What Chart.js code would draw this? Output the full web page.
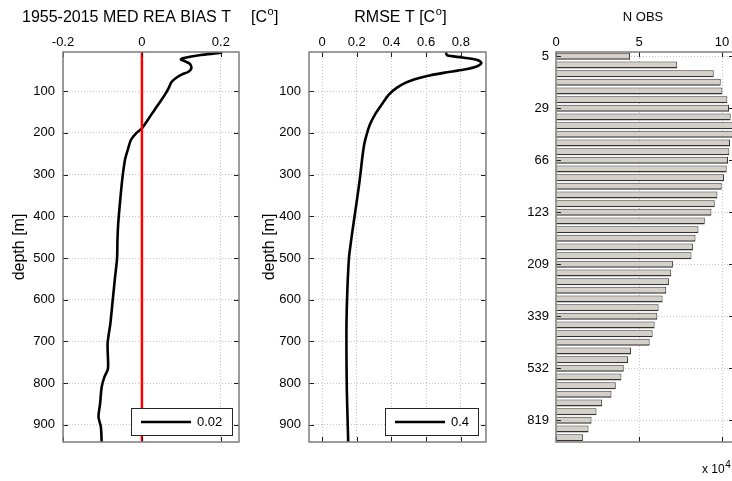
<!DOCTYPE html>
<html><head><meta charset="utf-8">
<script src="https://cdn.jsdelivr.net/npm/chart.js@4.4.1/dist/chart.umd.min.js"></script>
<style>
html,body{margin:0;padding:0;background:#fff;overflow:hidden;width:732px;height:481px;position:relative}
canvas{position:absolute;left:0;top:0}
</style></head><body>
<canvas id="c1" width="732" height="481"></canvas>
<canvas id="c2" width="732" height="481"></canvas>
<canvas id="c3" width="740" height="481"></canvas>
<script>
// ---------------- DATA ----------------
const biasDepth = [6, 8, 13, 21, 24, 29, 35, 46, 54, 59, 67, 78, 90, 104, 123, 146, 170, 189, 201, 217, 241, 265, 313, 361, 416, 457, 501, 545, 601, 657, 705, 765, 785, 809, 849, 881, 905, 941];
const biasValue = [0.203, 0.200, 0.149, 0.103, 0.099, 0.111, 0.122, 0.125, 0.117, 0.103, 0.088, 0.075, 0.069, 0.061, 0.048, 0.031, 0.014, 0.000, -0.015, -0.028, -0.036, -0.043, -0.050, -0.055, -0.060, -0.062, -0.063, -0.068, -0.074, -0.080, -0.087, -0.086, -0.095, -0.102, -0.106, -0.110, -0.104, -0.102];
const zeroLineValue = [0, 0];
const zeroLineDepth = [6, 941];

const rmseDepth = [6, 14, 19, 25, 32, 40, 48, 56, 64, 72, 80, 92, 108, 132, 156, 180, 204, 228, 260, 300, 332, 364, 396, 436, 476, 501, 577, 657, 737, 817, 881, 941];
const rmseValue = [0.715, 0.72, 0.81, 0.895, 0.918, 0.895, 0.82, 0.70, 0.60, 0.53, 0.48, 0.43, 0.385, 0.344, 0.305, 0.276, 0.257, 0.243, 0.232, 0.221, 0.211, 0.200, 0.189, 0.175, 0.162, 0.155, 0.146, 0.141, 0.141, 0.143, 0.147, 0.151];

const obsLevels = ['5','','','','','','29','','','','','','66','','','','','','123','','','','','','209','','','','','','339','','','','','','532','','','','','','819','',''];
const obsCount = [4.46, 7.3, 9.5, 9.92, 10.02, 10.32, 10.42, 10.52, 10.75, 10.75, 10.48, 10.44, 10.36, 10.28, 10.12, 9.98, 9.72, 9.56, 9.36, 8.96, 8.58, 8.4, 8.26, 8.16, 7.04, 6.94, 6.8, 6.64, 6.42, 6.18, 6.1, 5.94, 5.82, 5.64, 4.52, 4.34, 4.08, 3.94, 3.6, 3.34, 2.78, 2.44, 2.14, 1.96, 1.62];

const depthTicks = [100, 200, 300, 400, 500, 600, 700, 800, 900];
const biasTicks = [-0.2, 0, 0.2];
const rmseTicks = [0, 0.2, 0.4, 0.6, 0.8];
const obsTicks = [0, 5, 10];
const biasLegend = '0.02';
const rmseLegend = '0.4';

// ---------------- STYLE / HELPERS ----------------
const FONT = '"Liberation Sans", Arial, Helvetica, sans-serif';
const GRID = '#c4c4c4';

function pts(xs, ys) { return xs.map((v, i) => ({x: v, y: ys[i]})); }

// frame + inward tick marks on all four sides
const frameTicks = {
  id: 'frameTicks',
  afterDraw(chart) {
    const {ctx, chartArea: a} = chart;
    const xs = chart.scales.x, ys = chart.scales.y;
    ctx.save();
    ctx.strokeStyle = '#1e1e1e';
    ctx.lineWidth = 1;
    ctx.beginPath();
    xs.ticks.forEach((t, i) => {
      const p = Math.round(xs.getPixelForTick(i)) + 0.5;
      ctx.moveTo(p, a.top); ctx.lineTo(p, a.top + 5);
      ctx.moveTo(p, a.bottom); ctx.lineTo(p, a.bottom - 5);
    });
    ys.ticks.forEach((t, i) => {
      if (t.label === '' ) return;
      const p = Math.round(ys.getPixelForTick(i)) + 0.5;
      ctx.moveTo(a.left, p); ctx.lineTo(a.left + 5, p);
      ctx.moveTo(a.right, p); ctx.lineTo(a.right - 5, p);
    });
    ctx.stroke();
    ctx.strokeStyle = '#7c7c7c';
    ctx.lineWidth = 1.5;
    ctx.strokeRect(a.left, a.top, a.width, a.height);
    ctx.restore();
  }
};

// legend box in lower-right corner of plot area
const boxLegend = {
  id: 'boxLegend',
  afterDraw(chart, args, o) {
    if (!o || !o.show) return;
    const ds = chart.data.datasets[o.datasetIndex];
    const {ctx, chartArea: a} = chart;
    ctx.save();
    ctx.font = '13px ' + FONT;
    const w = o.width, h = 27;
    const x1 = Math.round(a.right - o.marginRight - w), y1 = Math.round(a.bottom - 7 - h);
    ctx.fillStyle = '#fff';
    ctx.fillRect(x1, y1, w, h);
    ctx.strokeStyle = '#262626';
    ctx.lineWidth = 1;
    ctx.strokeRect(x1 + 0.5, y1 + 0.5, w, h);
    ctx.strokeStyle = ds.borderColor;
    ctx.lineWidth = ds.borderWidth;
    ctx.beginPath();
    ctx.moveTo(x1 + 10, y1 + h / 2 + 0.5);
    ctx.lineTo(x1 + 60, y1 + h / 2 + 0.5);
    ctx.stroke();
    ctx.fillStyle = '#000';
    ctx.textBaseline = 'middle';
    ctx.textAlign = 'left';
    ctx.fillText(ds.label, x1 + 66, y1 + h / 2 + 1);
    ctx.restore();
  }
};

// titles with superscript
const headings = {
  id: 'headings',
  afterDraw(chart, args, o) {
    if (!o || !o.items) return;
    const ctx = chart.ctx;
    ctx.save();
    ctx.fillStyle = '#000';
    ctx.textBaseline = 'alphabetic';
    o.items.forEach(it => {
      ctx.font = it.size + 'px ' + FONT;
      ctx.textAlign = 'left';
      let x = it.x;
      const wMain = ctx.measureText(it.text).width;
      ctx.font = it.supSize + 'px ' + FONT;
      const wSup = it.sup ? ctx.measureText(it.sup).width : 0;
      ctx.font = it.size + 'px ' + FONT;
      const wTail = it.tail ? ctx.measureText(it.tail).width : 0;
      if (it.align === 'center') x = it.x - (wMain + wSup + wTail) / 2;
      if (it.align === 'right') x = it.x - (wMain + wSup + wTail);
      ctx.fillText(it.text, x, it.y);
      if (it.sup) {
        ctx.font = it.supSize + 'px ' + FONT;
        ctx.fillText(it.sup, x + wMain + 0.5, it.y - it.size * 0.42);
      }
      if (it.tail) {
        ctx.font = it.size + 'px ' + FONT;
        ctx.fillText(it.tail, x + wMain + wSup + 1, it.y);
      }
    });
    ctx.restore();
  }
};

function xAxis(min, max, ticks, fmt) {
  return {
    type: 'linear', position: 'top', min: min, max: max,
    afterBuildTicks: s => { s.ticks = ticks.map(v => ({value: v})); },
    afterFit: s => { s.height = 52; },
    ticks: {font: {size: 13, family: FONT}, color: '#000', padding: 2, maxRotation: 0,
            callback: fmt || (v => String(v))},
    grid: {color: GRID, lineWidth: 1, drawTicks: false},
    border: {display: false, dash: [1, 2]}
  };
}
function depthAxis(width) {
  return {
    type: 'linear', reverse: true, min: 6, max: 941,
    afterBuildTicks: s => { s.ticks = depthTicks.map(v => ({value: v})); },
    afterFit: s => { s.width = width; },
    ticks: {font: {size: 13, family: FONT}, color: '#000', padding: 8, callback: v => String(v)},
    grid: {color: GRID, lineWidth: 1, drawTicks: false},
    border: {display: false, dash: [1, 2]},
    title: {display: true, text: 'depth [m]', color: '#000', font: {size: 16, family: FONT}, padding: {top: 10, bottom: 0}}
  };
}

const common = {
  responsive: false, animation: false, devicePixelRatio: 1,
  plugins: {legend: {display: false}, tooltip: {enabled: false}},
  elements: {point: {radius: 0}}
};

// ---------------- CHART 1: BIAS ----------------
new Chart(document.getElementById('c1'), {
  type: 'line',
  data: {datasets: [
    {label: 'zero', data: pts(zeroLineValue, zeroLineDepth), borderColor: '#ff0000', borderWidth: 2.5, tension: 0},
    {label: biasLegend, data: pts(biasValue, biasDepth), borderColor: '#000', borderWidth: 2.6, tension: 0.25}
  ]},
  options: Object.assign({}, common, {
    indexAxis: 'y',
    layout: {padding: {left: 0, right: 732 - 239, top: 0, bottom: 39}},
    scales: {x: xAxis(-0.2, 0.246, biasTicks), y: depthAxis(63)},
    plugins: Object.assign({}, common.plugins, {
      boxLegend: {show: true, datasetIndex: 1, width: 101, marginRight: 7},
      headings: {items: [
        {text: '1955-2015 MED REA BIAS T', x: 22, y: 22, size: 16, supSize: 11, align: 'left'},
        {text: '[C', sup: 'o', tail: ']', x: 251, y: 22, size: 16, supSize: 11, align: 'left'}
      ]}
    })
  }),
  plugins: [frameTicks, boxLegend, headings]
});

// ---------------- CHART 2: RMSE ----------------
new Chart(document.getElementById('c2'), {
  type: 'line',
  data: {datasets: [
    {label: rmseLegend, data: pts(rmseValue, rmseDepth), borderColor: '#000', borderWidth: 2.6, tension: 0.3}
  ]},
  options: Object.assign({}, common, {
    indexAxis: 'y',
    layout: {padding: {left: 250, right: 732 - 486, top: 0, bottom: 39}},
    scales: {x: xAxis(-0.075, 0.945, rmseTicks), y: depthAxis(59)},
    plugins: Object.assign({}, common.plugins, {
      boxLegend: {show: true, datasetIndex: 0, width: 93, marginRight: 8},
      headings: {items: [
        {text: 'RMSE T [C', sup: 'o', tail: ']', x: 400, y: 22, size: 16, supSize: 11, align: 'center'}
      ]}
    })
  }),
  plugins: [frameTicks, boxLegend, headings]
});

// ---------------- CHART 3: N OBS ----------------
new Chart(document.getElementById('c3'), {
  type: 'bar',
  data: {labels: obsLevels, datasets: [
    {label: 'N OBS', data: obsCount, backgroundColor: '#d4d0c8', borderColor: '#333333',
     borderWidth: {top: 1, right: 1, bottom: 1.5, left: 0},
     barPercentage: 0.8, categoryPercentage: 1}
  ]},
  options: Object.assign({}, common, {
    indexAxis: 'y',
    layout: {padding: {left: 500, right: 740 - 734, top: 0, bottom: 39}},
    scales: {
      x: xAxis(0, 10.72, obsTicks),
      y: {
        type: 'category',
        afterFit: s => { s.width = 56; },
        ticks: {autoSkip: false, font: {size: 13, family: FONT}, color: '#000', padding: 7,
                callback: (v, i) => obsLevels[i]},
        grid: {offset: false, drawTicks: false, color: c => (obsLevels[c.index] ? GRID : 'rgba(0,0,0,0)')},
        border: {display: false, dash: [1, 2]}
      }
    },
    plugins: Object.assign({}, common.plugins, {
      headings: {items: [
        {text: 'N OBS', x: 643, y: 21, size: 13, supSize: 9, align: 'center'},
        {text: 'x 10', sup: '4', x: 702, y: 473, size: 12, supSize: 10, align: 'left'}
      ]}
    })
  }),
  plugins: [frameTicks, headings]
});
</script>
</body></html>
